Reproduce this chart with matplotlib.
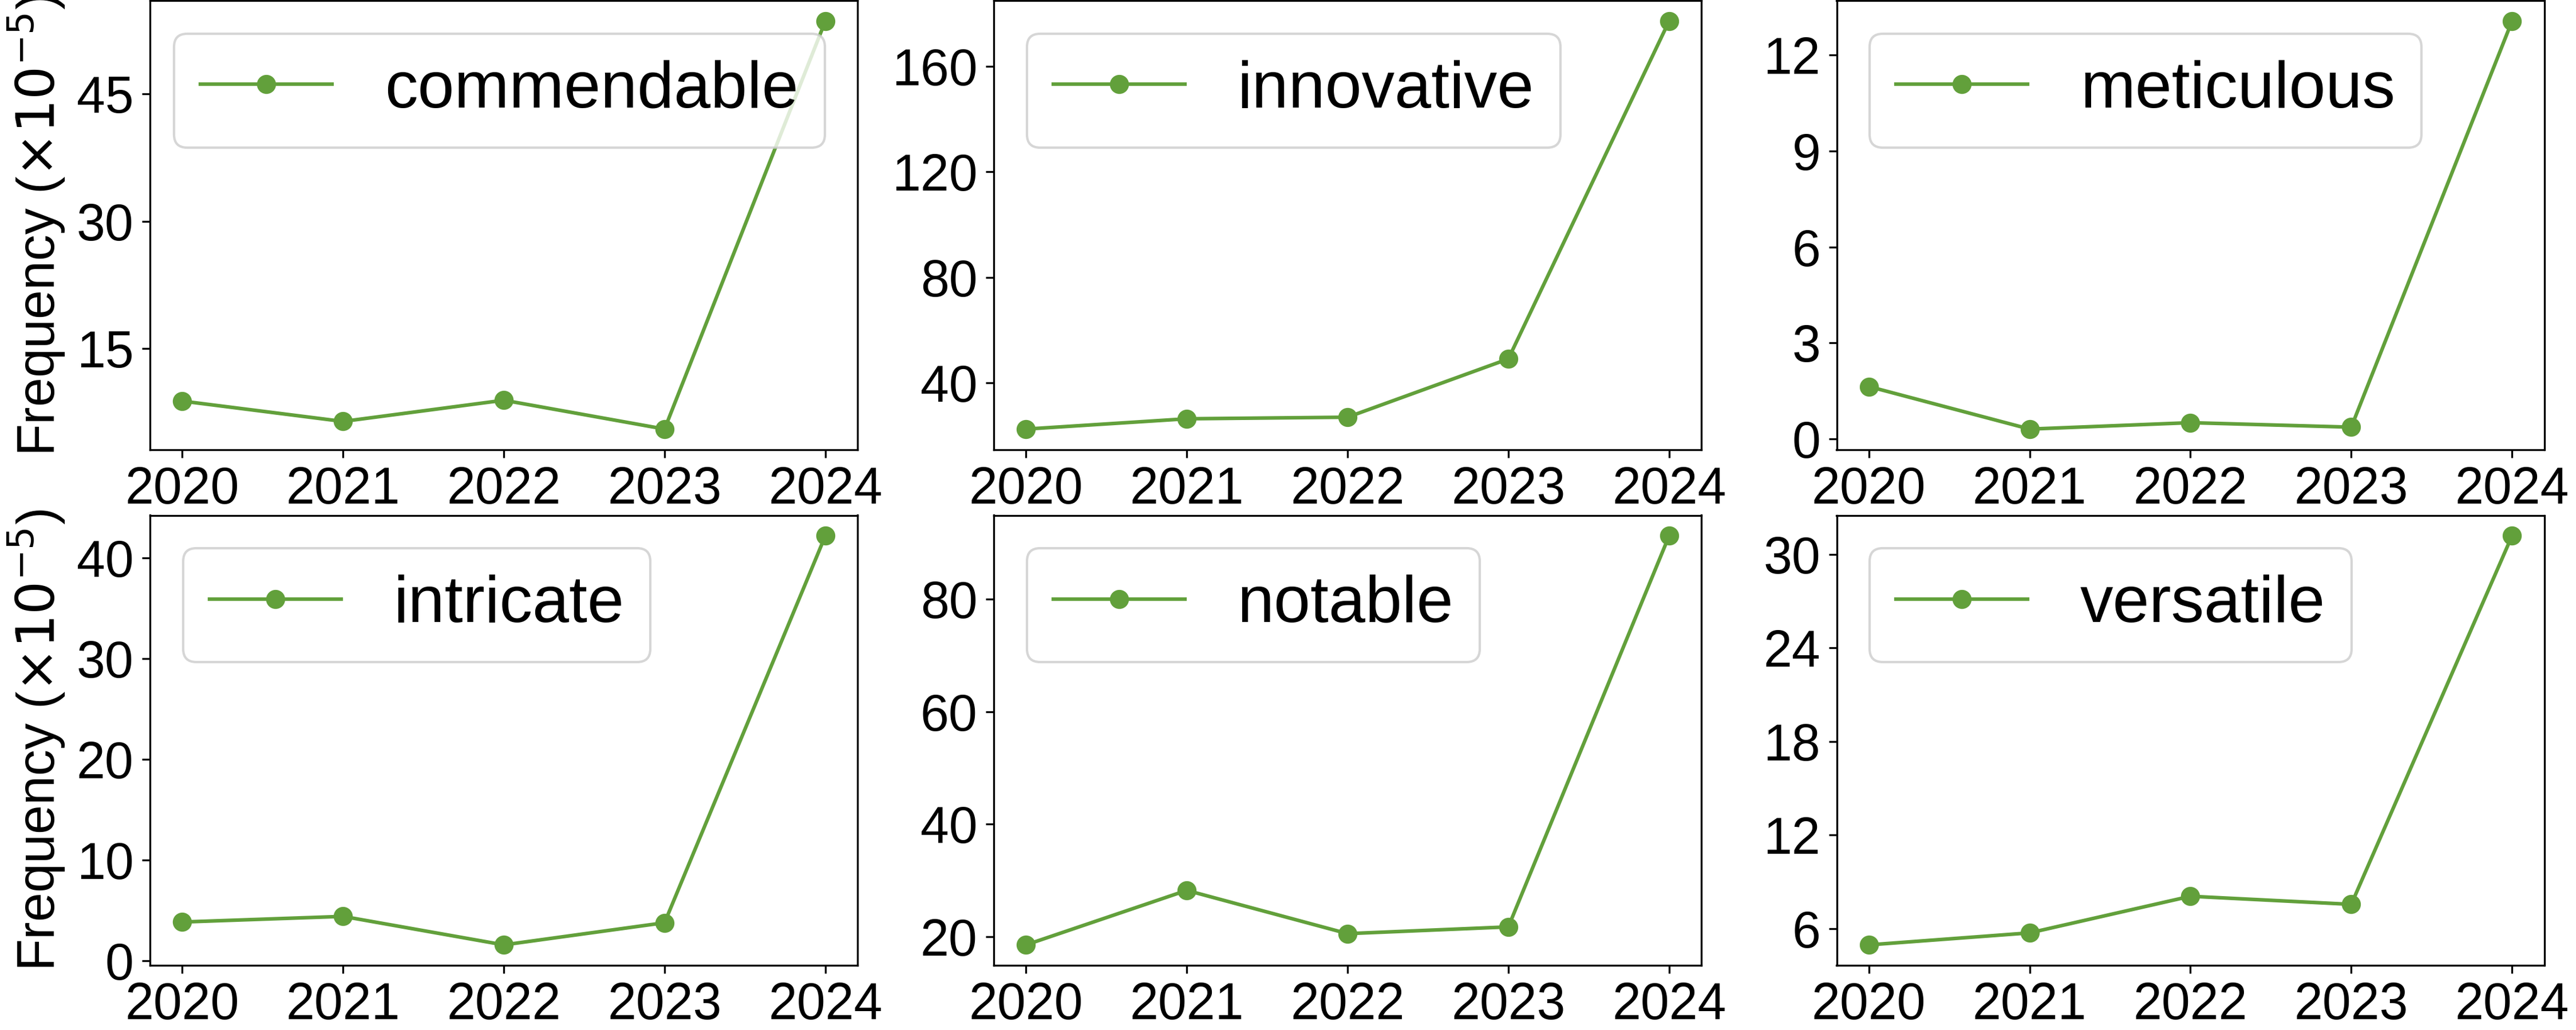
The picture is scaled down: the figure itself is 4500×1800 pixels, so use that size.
import matplotlib
matplotlib.use('Agg')
import matplotlib.pyplot as plt

plt.rcParams['font.family'] = ['Liberation Sans', 'DejaVu Sans']
plt.rcParams['mathtext.fontset'] = 'dejavusans'

years = [2020, 2021, 2022, 2023, 2024]
words = ['commendable', 'innovative', 'meticulous', 'intricate', 'notable', 'versatile']

commendable = [8.8, 6.4, 8.9, 5.5, 53.6]
innovative = [22.5, 26.4, 27.0, 49.1, 177.2]
meticulous = [1.64, 0.31, 0.51, 0.37, 13.07]
intricate = [3.84, 4.40, 1.57, 3.77, 42.2]
notable = [18.5, 28.2, 20.5, 21.7, 91.3]
versatile = [4.95, 5.72, 8.07, 7.55, 31.2]

yticks_commendable = [15, 30, 45]
yticks_innovative = [40, 80, 120, 160]
yticks_meticulous = [0, 3, 6, 9, 12]
yticks_intricate = [0, 10, 20, 30, 40]
yticks_notable = [20, 40, 60, 80]
yticks_versatile = [6, 12, 18, 24, 30]

series = [commendable, innovative, meticulous, intricate, notable, versatile]
yticks = [yticks_commendable, yticks_innovative, yticks_meticulous,
          yticks_intricate, yticks_notable, yticks_versatile]
legend_locs = ['upper right', 'upper left', 'upper left',
               'upper left', 'upper left', 'upper left']

color = '#62a03b'
W, H = 4500, 1800
fig = plt.figure(figsize=(15, 6), dpi=300)

col_left = [262, 1736, 3208.5]
ax_w = 1236
rows = [(1.0, 785.5), (900.5, 1687.0)]  # (top, bottom) in pixels

ylabel = 'Frequency ($\\times10^{-5}$)'

for i in range(6):
    r, c = divmod(i, 3)
    top, bot = rows[r]
    ax = fig.add_axes([col_left[c] / W, 1 - bot / H, ax_w / W, (bot - top) / H])
    ax.plot(years, series[i], color=color, marker='o', markersize=7,
            linewidth=1.5, label=words[i])
    ax.set_xticks(years)
    ax.set_yticks(yticks[i])
    ax.tick_params(axis='both', labelsize=21.5, length=3.3, width=0.8)
    for s in ax.spines.values():
        s.set_linewidth(0.8)
    ax.legend(loc=legend_locs[i], fontsize=27.6)
    if c == 0:
        ax.set_ylabel(ylabel, fontsize=22)

fig.savefig('out.png', dpi=300)
